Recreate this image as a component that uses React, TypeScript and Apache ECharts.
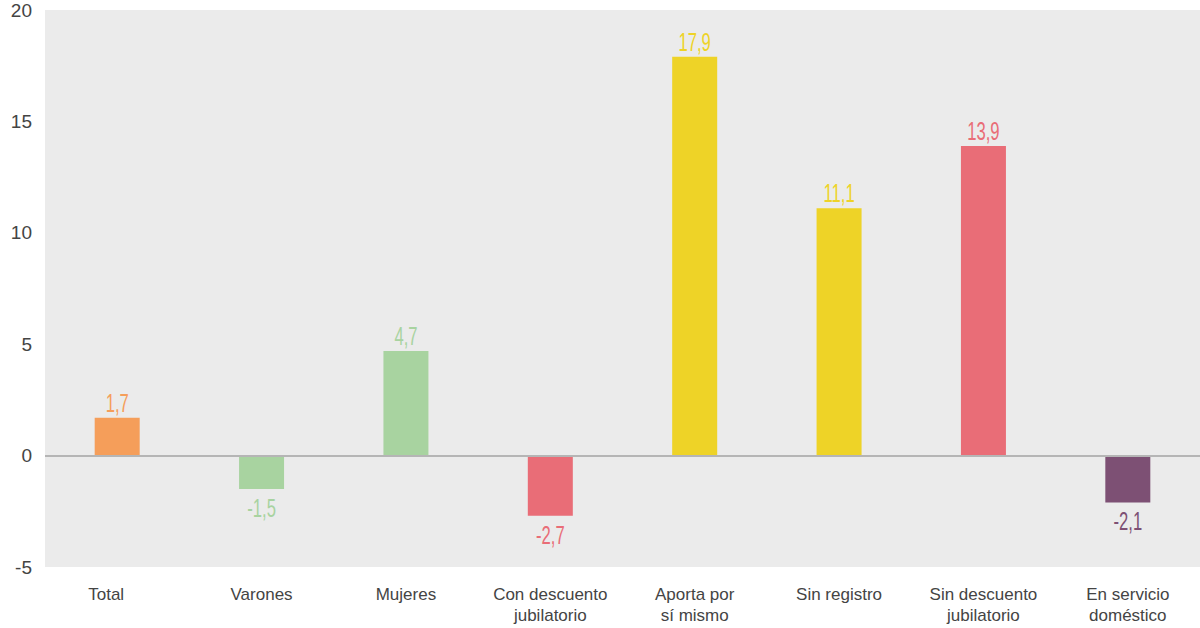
import React, { useEffect, useRef } from "react";
import * as echarts from "echarts";

const categories = [
  "Total",
  "Varones",
  "Mujeres",
  "Con descuento\njubilatorio",
  "Aporta por\nsí mismo",
  "Sin registro",
  "Sin descuento\njubilatorio",
  "En servicio\ndoméstico",
];
const values = [1.7, -1.5, 4.7, -2.7, 17.9, 11.1, 13.9, -2.1];
const barColors = ["#f59e5a", "#a8d3a0", "#a8d3a0", "#e96d77", "#eed327", "#eed327", "#e96d77", "#7d5074"];
const yTicks = { min: -5, max: 20, interval: 5 };

export default function App() {
  const ref = useRef<HTMLDivElement>(null);
  useEffect(() => {
    const chart = echarts.init(ref.current!, null, { renderer: "svg" });
    chart.setOption({
      animation: false,
      grid: {
        left: 45,
        right: -5,
        top: 10,
        bottom: 61,
        show: true,
        backgroundColor: "#ebebeb",
        borderWidth: 0,
      },
      xAxis: {
        type: "category",
        data: categories.map((c, i) =>
          i === 0 ? { value: c, textStyle: { padding: [0, 22, 0, 0] } } : c
        ),
        axisLine: { show: false },
        axisTick: { show: false },
        axisLabel: {
          color: "#444",
          fontFamily: "Liberation Sans, Arial, sans-serif",
          fontSize: 17,
          lineHeight: 21,
          margin: 17,
          interval: 0,
        },
      },
      yAxis: {
        type: "value",
        min: yTicks.min,
        max: yTicks.max,
        interval: yTicks.interval,
        splitLine: { show: false },
        axisLine: { show: false },
        axisTick: { show: false },
        axisLabel: {
          color: "#444",
          fontFamily: "Liberation Sans, Arial, sans-serif",
          fontSize: 19,
          margin: 13,
        },
      },
      series: [
        {
          type: "bar",
          barWidth: 45,
          data: values.map((v, i) => ({
            value: v,
            itemStyle: { color: barColors[i] },
          })),
          markLine: {
            silent: true,
            symbol: "none",
            label: { show: false },
            lineStyle: { color: "#b5b5b5", width: 2, type: "solid" },
            data: [{ yAxis: 0 }],
          },
        },
        {
          type: "custom",
          silent: true,
          data: values.map((v, i) => [i, v]),
          renderItem: (params: any, api: any) => {
            const i = api.value(0);
            const v = api.value(1);
            const p = api.coord([i, v]);
            const pos = v >= 0;
            return {
              type: "text",
              x: p[0],
              y: p[1] + (pos ? -2 : 6),
              scaleX: 0.64,
              style: {
                text: v.toFixed(1).replace(".", ","),
                fill: barColors[i],
                font: "26px 'Liberation Sans', Arial, sans-serif",
                align: "center",
                verticalAlign: pos ? "bottom" : "top",
              },
            };
          },
        },
      ],
    });
    return () => chart.dispose();
  }, []);
  return <div ref={ref} style={{ width: 1200, height: 628, position: "absolute", left: 0, top: 0 }} />;
}
